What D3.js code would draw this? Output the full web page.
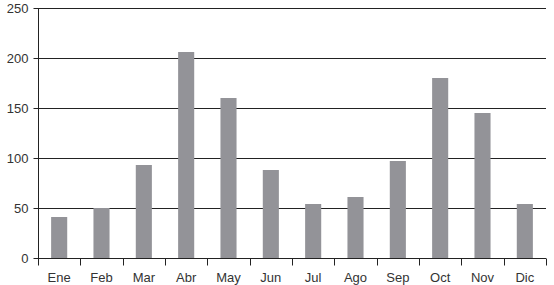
<!DOCTYPE html>
<html>
<head>
<meta charset="utf-8">
<script src="https://cdnjs.cloudflare.com/ajax/libs/d3/7.8.5/d3.min.js"></script>
<style>
    body { margin: 0; background: #fff; }
    svg text { font-family: "Liberation Sans", Arial, sans-serif; fill: #333; }
</style>
</head>
<body>
<div id="chart"></div>
<script>
// months and values
var months = ['Ene', 'Feb', 'Mar', 'Abr', 'May', 'Jun', 'Jul', 'Ago', 'Sep', 'Oct', 'Nov', 'Dic'];
var values = [41, 50, 93, 206, 160, 88, 54, 61, 97, 180, 145, 54];
var yTicks = [0, 50, 100, 150, 200, 250];

var margin = {top: 8, right: 8, bottom: 27, left: 38},
    width = 554 - margin.left - margin.right,
    height = 285 - margin.top - margin.bottom;

var svg = d3.select('#chart').append('svg')
    .attr('width', 554)
    .attr('height', 285)
    .append('g')
    .attr('transform', 'translate(' + margin.left + ',' + margin.top + ')');

var x = d3.scaleBand()
    .domain(months)
    .range([0, width]);

var y = d3.scaleLinear()
    .domain([0, 250])
    .range([height, 0]);

// grid lines
svg.selectAll('.grid')
    .data(yTicks.slice(1))
    .enter().append('line')
    .attr('x1', 0)
    .attr('x2', width)
    .attr('y1', d => Math.round(y(d)) + 0.5)
    .attr('y2', d => Math.round(y(d)) + 0.5)
    .style('stroke', '#222')
    .style('stroke-width', 1);

// bars
var barW = x.bandwidth() * 0.38;
svg.selectAll('.bar')
    .data(values)
    .enter().append('rect')
    .attr('class', 'bar')
    .attr('x', (d, i) => x(months[i]) + x.bandwidth() / 2 - barW / 2)
    .attr('width', barW)
    .attr('y', d => y(d))
    .attr('height', d => height - y(d))
    .style('fill', '#939398');

// y axis
var yAxis = svg.append('g')
    .attr('transform', 'translate(0.5,0)')
    .call(d3.axisLeft(y).tickValues(yTicks).tickSize(5).tickPadding(5));
yAxis.selectAll('line, path').style('stroke', '#222');
yAxis.select('.domain').attr('d', 'M0,' + height + 'V0');
yAxis.selectAll('text').style('font-size', '13px');

// x axis, ticks between the months
var xAxis = svg.append('g')
    .attr('transform', 'translate(0,' + (height + 0.5) + ')');
xAxis.append('line')
    .attr('x1', 0).attr('x2', width)
    .style('stroke', '#222');
xAxis.selectAll('.tick')
    .data(months.concat(['end']))
    .enter().append('line')
    .attr('x1', (d, i) => Math.round(i * x.step()) + 0.5)
    .attr('x2', (d, i) => Math.round(i * x.step()) + 0.5)
    .attr('y1', 0).attr('y2', 7)
    .style('stroke', '#222');
xAxis.selectAll('.label')
    .data(months)
    .enter().append('text')
    .attr('x', d => x(d) + x.bandwidth() / 2)
    .attr('y', 19)
    .attr('dy', '0.32em')
    .style('text-anchor', 'middle')
    .style('font-size', '13px')
    .text(d => d);
</script>
</body>
</html>
